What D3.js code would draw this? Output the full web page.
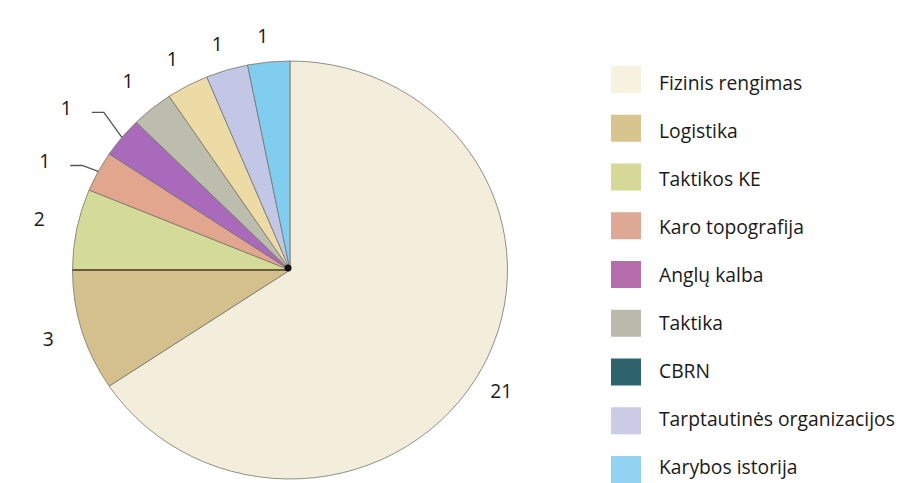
<!DOCTYPE html>
<html>
<head>
<meta charset="utf-8">
<script src="https://cdn.jsdelivr.net/npm/d3@7"></script>
<style>
  html, body { margin: 0; padding: 0; background: #fff; }
  svg text { font-family: "Open Sans", "Noto Sans", sans-serif; fill: #1a1a1a; }
</style>
</head>
<body>
<svg id="chart" width="914" height="483"></svg>
<script>
// --- Data ---
const categories = [
    "Fizinis rengimas", "Logistika", "Taktikos KE", "Karo topografija",
    "Anglų kalba", "Taktika", "CBRN", "Tarptautinės organizacijos", "Karybos istorija"
];
const values = [21, 3, 2, 1, 1, 1, 1, 1, 1];
const legendColors = [
    "#f7f1df", "#d7c48f", "#d6d897", "#dea896", "#b56eab",
    "#bbbbad", "#2e626c", "#cccce6", "#92d3f2"
];
// colours as the slices are painted in the picture
const sliceColors = [
    "#f3eddb", "#d4c08c", "#d4da98", "#e2a68f", "#a96abb",
    "#bdbdae", "#eddba6", "#c3c7e6", "#80cdf0"
];

// --- Layout ---
const svg = d3.select("#chart");
const cx = 290, cy = 270;
const ry = 209, rx = 217.5;          // the pie is a touch wider than tall
const sx = rx / ry;
const fontSize = 19.3;

// small nudges for the value labels (px), keyed by slice name
const labelNudge = {
    "Fizinis rengimas": [-7, 8],
    "Logistika": [-5, -1],
    "Taktikos KE": [-8, -5],
    "Taktika": [-5, -5],
    "CBRN": [-1, -1],
    "Tarptautinės organizacijos": [-1, 2],
    "Karybos istorija": [-3, 3]
};
// slices whose labels sit on a leader line: elbow offset from the rim
const leaderElbow = {
    "Karo topografija": [-16, -6],
    "Anglų kalba": [-18, -25]
};

const pie = d3.pie().sort(null).value(d => d.value);
const arc = d3.arc().innerRadius(0).outerRadius(ry);

const data = categories.map((c, i) => ({
    name: c, value: values[i], color: sliceColors[i], legend: legendColors[i]
}));
const arcs = pie(data);

// point on the (slightly elliptic) rim, pushed out by `extra` px
function rimPoint(angle, extra) {
    return [cx + (rx + extra) * Math.sin(angle), cy - (ry + extra) * Math.cos(angle)];
}

// --- Slices ---
const pieG = svg.append("g")
    .attr("transform", `translate(${cx},${cy}) scale(${sx},1)`);

pieG.selectAll("path.slice")
    .data(arcs)
    .join("path")
    .attr("class", "slice")
    .attr("fill", d => d.data.color)
    .attr("stroke", "#76766c")
    .attr("stroke-width", 0.8)
    .attr("vector-effect", "non-scaling-stroke")
    .attr("d", arc);

// darker edge between Logistika and Taktikos KE
const logi = arcs[1];
const edgeEnd = rimPoint(logi.endAngle, 0);
svg.append("line")
    .attr("x1", cx).attr("y1", cy)
    .attr("x2", edgeEnd[0]).attr("y2", edgeEnd[1])
    .attr("stroke", "#6a5c3c")
    .attr("stroke-width", 1.8);

// centre blob where the strokes meet
svg.append("circle")
    .attr("cx", cx - 2).attr("cy", cy - 2)
    .attr("r", 3.5)
    .attr("fill", "#111");

// --- Value labels ---
const labelG = svg.append("g").attr("font-size", fontSize);

arcs.forEach(d => {
    const mid = (d.startAngle + d.endAngle) / 2;
    const elbow = leaderElbow[d.data.name];
    let lx, ly;
    if (elbow) {
        const p0 = rimPoint(mid, 0);
        const p1 = [p0[0] + elbow[0], p0[1] + elbow[1]];
        const p2 = [p1[0] - 12, p1[1]];
        labelG.append("polyline")
            .attr("points", [p0, p1, p2].map(p => p.join(",")).join(" "))
            .attr("fill", "none")
            .attr("stroke", "#555")
            .attr("stroke-width", 1.3);
        lx = p2[0] - 25.5;
        ly = p2[1] - 5;
    } else {
        const p = rimPoint(mid, 30);
        const n = labelNudge[d.data.name] || [0, 0];
        lx = p[0] + n[0];
        ly = p[1] + n[1];
    }
    labelG.append("text")
        .attr("x", lx)
        .attr("y", ly)
        .attr("text-anchor", "middle")
        .attr("dominant-baseline", "central")
        .text(d.data.value);
});

// --- Legend ---
const legend = svg.append("g");

legend.selectAll("rect")
    .data(data)
    .join("rect")
    .attr("x", 611)
    .attr("y", (d, i) => 66 + i * 48.75)
    .attr("width", 30)
    .attr("height", 27)
    .attr("fill", d => d.legend);

legend.selectAll("text")
    .data(data)
    .join("text")
    .attr("x", 659)
    .attr("y", (d, i) => 89.5 + i * 48.1)
    .attr("font-size", fontSize)
    .text(d => d.name);
</script>
</body>
</html>
